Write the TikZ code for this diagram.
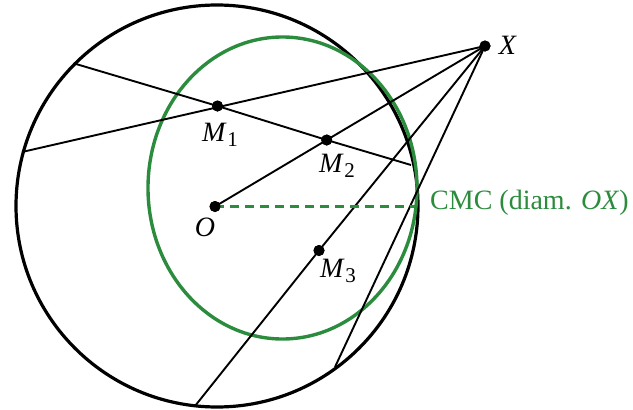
\documentclass[tikz,border=0pt]{standalone}
\usepackage{fontspec}
\setmainfont{Liberation Serif}
\definecolor{cmcgreen}{RGB}{44,140,62}
\newcommand\labM[1]{\textit{M}\kern0.5pt\raisebox{-0.38ex}{\fontsize{21}{23}\selectfont #1}}
\begin{document}
\begin{tikzpicture}[x=1pt,y=-1pt,
  dot/.style={circle,fill=black,inner sep=0pt,minimum size=11pt},
  lab/.style={inner sep=0pt,font=\fontsize{28}{32}\selectfont},
  thinline/.style={line width=1.9pt,black},
  bigcircle/.style={line width=3.2pt,black},
  greencurve/.style={line width=3.4pt,cmcgreen},
  greendash/.style={line width=2.4pt,cmcgreen,dash pattern=on 9pt off 6pt}]
\useasboundingbox (0,0) rectangle (633,410);
% circles
\draw[bigcircle] (217,206) circle [radius=201];
\draw[greencurve] (282.5,188) ellipse [x radius=134.5, y radius=151];
% points
\node[dot] (X) at (485,46) {};
\node[dot] (O) at (215,206.5) {};
\node[dot] (M1) at (217.5,106) {};
\node[dot] (M2) at (326.7,140) {};
\node[dot] (M3) at (319,250.5) {};
% free ends on the big circle
\coordinate (A1) at (22,152);
\coordinate (C1) at (76,64);
\coordinate (C2) at (411,165);
\coordinate (B3) at (195,406);
\coordinate (B4) at (335,367);
\coordinate (G) at (416.5,206.5);
% connectors
\draw[thinline] (X.center) -- (A1);
\draw[thinline] (C1) -- (M1.center) -- (M2.center) -- (C2);
\draw[thinline] (X.center) -- (M2.center) -- (O.center);
\draw[thinline] (X.center) -- (M3.center) -- (B3);
\draw[thinline] (X.center) -- (B4);
\draw[greendash] (O.center) -- (G);
% redraw dots on top
\foreach \p in {X,O,M1,M2,M3} \fill (\p) circle [radius=5.5];
% labels
\node[lab] (LX) at (508,45) {\textit{X}};
\node[lab] (LO) at (205,227) {\textit{O}};
\node[lab] (LM1) at (220,135) {\labM{1}};
\node[lab] (LM2) at (337,166) {\labM{2}};
\node[lab] (LM3) at (338,271) {\labM{3}};
\node[lab,anchor=west,text=cmcgreen] (LC) at (430,203) {CMC (diam. \textit{OX})};
\end{tikzpicture}
\end{document}
